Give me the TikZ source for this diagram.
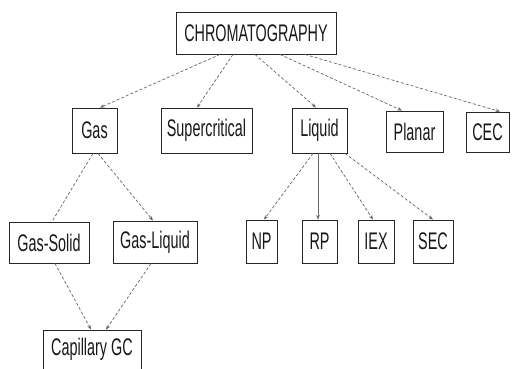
\documentclass[tikz,border=0pt]{standalone}
\usepackage{fontspec}
\setmainfont{Liberation Sans}[FakeStretch=0.6]
\usetikzlibrary{arrows.meta}
\begin{document}
\begin{tikzpicture}[x=1pt,y=1pt,
  box/.style={draw=black!85, line width=0.9pt, rectangle, inner sep=0pt,
    font=\fontsize{24}{28}\selectfont, text=black!90},
  conn/.style={draw=black!60, line width=0.7pt, dash pattern=on 3pt off 2pt,
    -{Stealth[length=4.5pt,width=3.5pt]}},
  plainconn/.style={draw=black!60, line width=0.7pt, dash pattern=on 3pt off 2pt},
  solidconn/.style={draw=black!60, line width=0.6pt, -{Stealth[length=4.5pt,width=3.5pt]}}]
\useasboundingbox (0,0) rectangle (512,-369);
\fill[white] (0,0) rectangle (512,-369);
\node[box, minimum width=160pt, minimum height=42pt] (chrom) at (256,-33) {CHROMATOGRAPHY};
\node[box, minimum width=45pt, minimum height=45pt] (gas) at (94.5,-130.5) {Gas};
\node[box, minimum width=91pt, minimum height=45pt] (super) at (206.5,-130.5) {Supercritical};
\node[box, minimum width=55pt, minimum height=45pt] (liquid) at (319.5,-130.5) {Liquid};
\node[box, minimum width=57pt, minimum height=41pt] (planar) at (414.5,-131.5) {Planar};
\node[box, minimum width=43pt, minimum height=40pt] (cec) at (487.5,-132) {CEC};
\node[box, minimum width=80pt, minimum height=41pt] (gsolid) at (49,-242.5) {Gas-Solid};
\node[box, minimum width=84pt, minimum height=42pt] (gliquid) at (155,-242) {Gas-Liquid};
\node[box, minimum width=31pt, minimum height=43pt] (np) at (261.5,-241.5) {NP};
\node[box, minimum width=35pt, minimum height=43pt] (rp) at (319.5,-241.5) {RP};
\node[box, minimum width=36pt, minimum height=43pt] (iex) at (376,-241.5) {IEX};
\node[box, minimum width=40pt, minimum height=43pt] (sec) at (433,-241.5) {SEC};
\node[box, minimum width=98pt, minimum height=39pt] (cap) at (92,-349.5) {Capillary GC};
% level 1
\draw[conn] ([xshift=-36pt]chrom.south) -- ([xshift=5.5pt]gas.north);
\draw[conn] ([xshift=-23pt]chrom.south) -- ([xshift=-9.5pt]super.north);
\draw[conn] ([xshift=-1pt]chrom.south) -- ([xshift=-3.5pt]liquid.north);
\draw[conn] ([xshift=24pt]chrom.south) -- ([xshift=-12.5pt]planar.north);
\draw[conn] ([xshift=49pt]chrom.south) -- ([xshift=12.5pt]cec.north);
% gas children
\draw[plainconn] ([xshift=-1.5pt]gas.south) -- ([xshift=3pt]gsolid.north);
\draw[conn] ([xshift=3.5pt]gas.south) -- ([xshift=-2pt]gliquid.north);
% liquid children
\draw[conn] ([xshift=-6.5pt]liquid.south) -- ([xshift=2.5pt]np.north);
\draw[solidconn] ([xshift=-1.5pt]liquid.south) -- ([xshift=-1.5pt]rp.north);
\draw[conn] ([xshift=10.5pt]liquid.south) -- ([xshift=-3pt]iex.north);
\draw[conn] ([xshift=25.5pt]liquid.south) -- (sec.north);
% capillary
\draw[conn] ([xshift=6pt]gsolid.south) -- ([xshift=-1pt]cap.north);
\draw[conn] ([xshift=-4pt]gliquid.south) -- ([xshift=14pt]cap.north);
\end{tikzpicture}
\end{document}
